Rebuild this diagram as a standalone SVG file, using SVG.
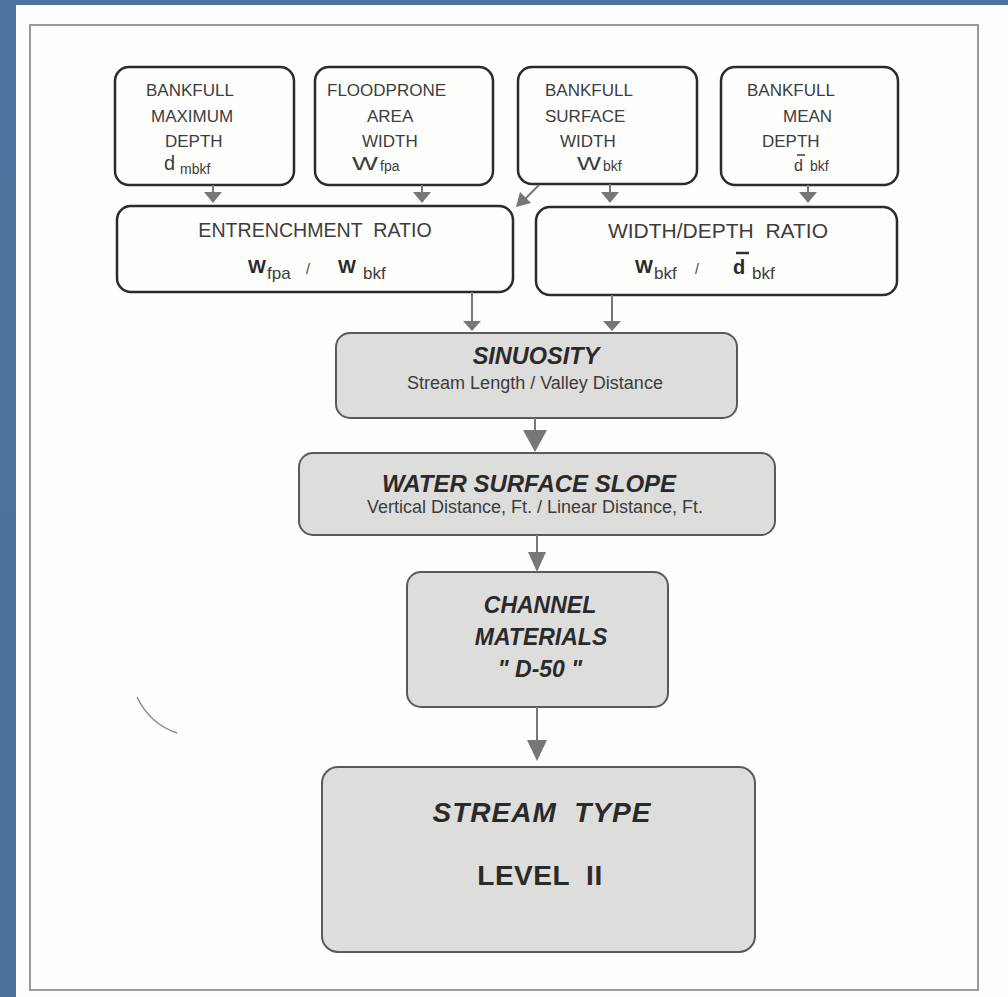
<svg xmlns="http://www.w3.org/2000/svg" width="1008" height="997" viewBox="0 0 1008 997">
<defs>
<linearGradient id="bg" x1="0" y1="0" x2="0" y2="1">
<stop offset="0" stop-color="#4d74a0"/>
<stop offset="1" stop-color="#4a6f99"/>
</linearGradient>
</defs>
<style>
text{white-space:pre}
.box{fill:#fefefc;stroke:#2b2b2b;stroke-width:2.5}
.gbox{fill:#dddddb;stroke:#5a5a5a;stroke-width:2}
.t{font-family:"Liberation Sans",Arial,sans-serif;fill:#3c3c3c}
.s{font-size:17px}
.sub{font-size:14px}
.bi{font-family:"Liberation Sans",Arial,sans-serif;font-weight:bold;font-style:italic;fill:#2a2a2a}
.b{font-family:"Liberation Sans",Arial,sans-serif;font-weight:bold;fill:#2a2a2a}
.ln{stroke:#777;stroke-width:2;fill:none}
.ah{fill:#777}
</style>
<rect x="0" y="0" width="1008" height="997" fill="url(#bg)"/>
<rect x="16" y="5" width="992" height="992" fill="#fdfdfb"/>
<rect x="30" y="25" width="948" height="965" fill="#fefefd" stroke="#9a9a9a" stroke-width="2"/>
<path d="M137,697 Q150,724 177,733" stroke="#8a8a8a" stroke-width="1.5" fill="none"/>

<g id="n-bankfull-max-depth">
<rect class="box" x="115" y="67" width="179" height="118" rx="14"/>
<text class="t s" x="146" y="96">BANKFULL</text>
<text class="t s" x="151" y="122">MAXIMUM</text>
<text class="t s" x="165" y="147">DEPTH</text>
<text class="t" x="164" y="170" font-size="20">d</text>
<text class="t sub" x="180" y="174">mbkf</text>
</g>

<g id="n-floodprone-area-width">
<rect class="box" x="315" y="67" width="178" height="118" rx="14"/>
<text class="t s" x="327" y="96">FLOODPRONE</text>
<text class="t s" x="367" y="122">AREA</text>
<text class="t s" x="362" y="147">WIDTH</text>
<text class="t" x="352" y="170" font-size="18" font-weight="300" textLength="26" lengthAdjust="spacingAndGlyphs">W</text>
<text class="t sub" x="380" y="171">fpa</text>
</g>

<g id="n-bankfull-surface-width">
<rect class="box" x="518" y="67" width="179" height="117" rx="14"/>
<text class="t s" x="545" y="96">BANKFULL</text>
<text class="t s" x="545" y="122">SURFACE</text>
<text class="t s" x="560" y="147">WIDTH</text>
<text class="t" x="577" y="170" font-size="18" font-weight="300" textLength="24" lengthAdjust="spacingAndGlyphs">W</text>
<text class="t sub" x="603" y="171">bkf</text>
</g>

<g id="n-bankfull-mean-depth">
<rect class="box" x="721" y="67" width="177" height="118" rx="14"/>
<text class="t s" x="747" y="96">BANKFULL</text>
<text class="t s" x="783" y="122">MEAN</text>
<text class="t s" x="762" y="147">DEPTH</text>
<line x1="797" y1="155" x2="805" y2="155" stroke="#3c3c3c" stroke-width="1.5"/>
<text class="t" x="794" y="171" font-size="16">d</text>
<text class="t sub" x="810" y="171">bkf</text>
</g>

<g id="n-entrenchment-ratio">
<rect class="box" x="117" y="206" width="396" height="86" rx="14"/>
<text class="t" x="315" y="237" font-size="19.6" text-anchor="middle">ENTRENCHMENT  RATIO</text>
<text class="b" x="248" y="273" font-size="19" fill="#333">W</text>
<text class="t" x="267" y="279" font-size="17">fpa</text>
<text class="t" x="306" y="274" font-size="14">/</text>
<text class="b" x="338" y="273" font-size="19" fill="#333">W</text>
<text class="t" x="363" y="279" font-size="17">bkf</text>
</g>

<g id="n-width-depth-ratio">
<rect class="box" x="536" y="207" width="361" height="88" rx="14"/>
<text class="t" x="718" y="238" font-size="21" text-anchor="middle">WIDTH/DEPTH  RATIO</text>
<text class="b" x="635" y="273" font-size="19" fill="#333">W</text>
<text class="t" x="654" y="279" font-size="17">bkf</text>
<text class="t" x="695" y="274" font-size="14">/</text>
<line x1="736" y1="253" x2="749" y2="253" stroke="#333" stroke-width="2.5"/>
<text class="b" x="733" y="274" font-size="20" fill="#333">d</text>
<text class="t" x="752" y="279" font-size="17">bkf</text>
</g>

<g id="n-sinuosity">
<rect class="gbox" x="336" y="333" width="401" height="85" rx="14"/>
<text class="bi" x="536" y="364" font-size="23.5" text-anchor="middle">SINUOSITY</text>
<text class="t" x="535" y="389" font-size="18" text-anchor="middle">Stream Length / Valley Distance</text>
</g>

<g id="n-water-surface-slope">
<rect class="gbox" x="299" y="453" width="476" height="82" rx="14"/>
<text class="bi" x="529" y="492" font-size="24" text-anchor="middle">WATER SURFACE SLOPE</text>
<text class="t" x="535" y="513" font-size="18" text-anchor="middle">Vertical Distance, Ft. / Linear Distance, Ft.</text>
</g>

<g id="n-channel-materials">
<rect class="gbox" x="407" y="572" width="261" height="135" rx="14"/>
<text class="bi" x="540" y="613" font-size="23" text-anchor="middle">CHANNEL</text>
<text class="bi" x="541" y="645" font-size="23" text-anchor="middle">MATERIALS</text>
<text class="bi" x="540" y="677" font-size="23" text-anchor="middle">" D-50 "</text>
</g>

<g id="n-stream-type">
<rect class="gbox" x="322" y="767" width="433" height="185" rx="16"/>
<text class="bi" x="542" y="822" font-size="28" text-anchor="middle" letter-spacing="1">STREAM  TYPE</text>
<text class="b" x="540" y="885" font-size="28" text-anchor="middle" letter-spacing="0.5">LEVEL  II</text>
</g>

<g id="connectors">
<line class="ln" x1="213" y1="185" x2="213" y2="193"/>
<polygon class="ah" points="204,192 222,192 213,203"/>
<line class="ln" x1="422" y1="185" x2="422" y2="193"/>
<polygon class="ah" points="413,192 431,192 422,203"/>
<line class="ln" x1="610" y1="184" x2="610" y2="193"/>
<polygon class="ah" points="601,192 619,192 610,203"/>
<line class="ln" x1="808" y1="185" x2="808" y2="193"/>
<polygon class="ah" points="799,192 817,192 808,203"/>
<line class="ln" x1="539" y1="185" x2="524" y2="200"/>
<polygon class="ah" points="516,207 520,192 531,203"/>
<line class="ln" x1="472" y1="292" x2="472" y2="322"/>
<polygon class="ah" points="463,321 481,321 472,331"/>
<line class="ln" x1="612" y1="295" x2="612" y2="322"/>
<polygon class="ah" points="603,321 621,321 612,331"/>
<line class="ln" x1="535" y1="418" x2="535" y2="431"/>
<polygon class="ah" points="523,430 547,430 535,452"/>
<line class="ln" x1="537" y1="535" x2="537" y2="553"/>
<polygon class="ah" points="528,552 546,552 537,572"/>
<line class="ln" x1="537" y1="707" x2="537" y2="741"/>
<polygon class="ah" points="527,740 547,740 537,761"/>
</g>
</svg>
